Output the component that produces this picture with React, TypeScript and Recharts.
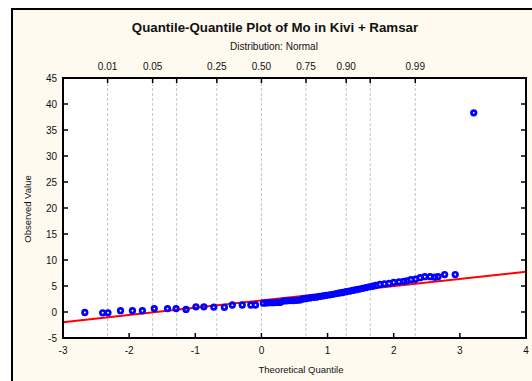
import React from "react";
import {
  ComposedChart,
  Scatter,
  XAxis,
  YAxis,
  CartesianGrid,
  ReferenceLine,
} from "recharts";

// Theoretical normal quantiles of each sample point
const theoreticalQ = [
  -2.67, -2.4, -2.32, -2.13, -1.95, -1.8, -1.62, -1.42, -1.29, -1.14, -0.99,
  -0.87, -0.72, -0.56, -0.44, -0.29, -0.16, -0.09, 0.03, 0.08, 0.13, 0.18,
  0.23, 0.28, 0.33, 0.38, 0.43, 0.48, 0.53, 0.58, 0.63, 0.68, 0.73, 0.78,
  0.83, 0.88, 0.93, 0.98, 1.03, 1.08, 1.13, 1.18, 1.23, 1.28, 1.33, 1.38,
  1.43, 1.48, 1.53, 1.58, 1.63, 1.68, 1.73, 1.79, 1.86, 1.93, 2.0, 2.08,
  2.15, 2.2, 2.26, 2.33, 2.4, 2.47, 2.55, 2.62, 2.67, 2.77, 2.93, 3.21,
];

// Observed Mo values, sorted
const observedMo = [
  -0.1, -0.15, -0.15, 0.25, 0.25, 0.25, 0.65, 0.65, 0.65, 0.5, 1.0, 1.0, 0.95,
  0.9, 1.35, 1.35, 1.35, 1.35, 1.7, 1.75, 1.8, 1.8, 1.85, 1.85, 2.1, 2.15,
  2.2, 2.2, 2.25, 2.3, 2.5, 2.6, 2.7, 2.8, 2.85, 3.0, 3.1, 3.2, 3.3, 3.4,
  3.55, 3.65, 3.75, 3.9, 4.0, 4.15, 4.3, 4.4, 4.55, 4.7, 4.85, 4.95, 5.1,
  5.3, 5.4, 5.5, 5.7, 5.8, 5.9, 6.0, 6.2, 6.3, 6.6, 6.8, 6.8, 6.7, 6.8, 7.2,
  7.2, 38.3,
];

// Reference line of the normal fit, at the ends of the quantile range
const fitLineQ = [-3, 4];
const fitLineV = [-1.95, 7.75];

const bottomTicks = [-3, -2, -1, 0, 1, 2, 3, 4];
const leftTicks = [-5, 0, 5, 10, 15, 20, 25, 30, 35, 40, 45];

// Probability scale along the top (z-values of the normal distribution)
const probZ = [-2.326, -1.645, -1.2816, -0.674, 0, 0.674, 1.2816, 1.645, 2.326];
const probLabels = ["0.01", "0.05", "", "0.25", "0.50", "0.75", "0.90", "", "0.99"];

const points = theoreticalQ.map((q, i) => ({ q, v: observedMo[i] }));
const fitSegment = fitLineQ.map((q, i) => ({ x: q, y: fitLineV[i] }));

const FONT = "'Liberation Sans', Arial, sans-serif";
const TICK_LEN = 5;

const LeftTick = (p: any) => (
  <g>
    <line x1={p.x} y1={p.y} x2={p.x + TICK_LEN} y2={p.y} stroke="#000" strokeWidth={1.5} />
    <text x={p.x - 6} y={p.y} dy="0.35em" textAnchor="end" fontSize={10} fontFamily={FONT} fill="#111">
      {p.payload.value}
    </text>
  </g>
);

const RightTick = (p: any) => (
  <line x1={p.x} y1={p.y} x2={p.x - TICK_LEN} y2={p.y} stroke="#000" strokeWidth={1.5} />
);

const BottomTick = (p: any) => (
  <g>
    <line x1={p.x} y1={p.y} x2={p.x} y2={p.y - TICK_LEN} stroke="#000" strokeWidth={1.5} />
    <text x={p.x} y={p.y + 12} dy="0.35em" textAnchor="middle" fontSize={10} fontFamily={FONT} fill="#111">
      {p.payload.value}
    </text>
  </g>
);

const TopTick = (p: any) => {
  const idx = probZ.indexOf(p.payload.value);
  const label = idx >= 0 ? probLabels[idx] : "";
  return (
    <g>
      <line x1={p.x} y1={p.y} x2={p.x} y2={p.y + TICK_LEN} stroke="#000" strokeWidth={1.5} />
      {label && (
        <text x={p.x} y={p.y - 12} dy="0.35em" textAnchor="middle" fontSize={10} fontFamily={FONT} fill="#111">
          {label}
        </text>
      )}
    </g>
  );
};

const Dot = (p: any) => (
  <circle cx={p.cx} cy={p.cy} r={2.3} fill="none" stroke="#0000ff" strokeWidth={2.7} />
);

const axisLine = { stroke: "#000", strokeWidth: 2, strokeLinecap: "square" as const };

export default function App() {
  return (
    <div
      style={{
        position: "absolute",
        left: 0,
        top: 0,
        width: 532,
        height: 381,
        overflow: "hidden",
        background: "#fff",
        fontFamily: FONT,
      }}
    >
      <div
        style={{
          position: "absolute",
          left: 11,
          top: 8,
          width: 600,
          height: 450,
          border: "2.5px solid #000",
          background: "#fefaf0",
        }}
      />
      <div
        style={{
          position: "absolute",
          left: 275,
          top: 20,
          transform: "translateX(-50%)",
          whiteSpace: "nowrap",
          fontSize: 13.3,
          fontWeight: "bold",
          lineHeight: "15px",
          color: "#111",
        }}
      >
        Quantile-Quantile Plot of Mo in Kivi + Ramsar
      </div>
      <div
        style={{
          position: "absolute",
          left: 274,
          top: 41,
          transform: "translateX(-50%)",
          whiteSpace: "nowrap",
          fontSize: 10,
          lineHeight: "12px",
          color: "#111",
        }}
      >
        Distribution: Normal
      </div>
      <div
        style={{
          position: "absolute",
          left: 301,
          top: 364,
          transform: "translateX(-50%)",
          whiteSpace: "nowrap",
          fontSize: 9.5,
          lineHeight: "12px",
          color: "#111",
        }}
      >
        Theoretical Quantile
      </div>
      <div
        style={{
          position: "absolute",
          left: 28,
          top: 209,
          transform: "translate(-50%, -50%) rotate(-90deg)",
          whiteSpace: "nowrap",
          fontSize: 9.5,
          lineHeight: "12px",
          color: "#111",
        }}
      >
        Observed Value
      </div>
      <div style={{ position: "absolute", left: 0, top: 0 }}>
        <ComposedChart
          width={532}
          height={381}
          data={points}
          margin={{ top: 58, right: 5, bottom: 13, left: 13 }}
        >
          <CartesianGrid
            xAxisId="top"
            yAxisId="left"
            horizontal={false}
            stroke="#c4c4c4"
            strokeDasharray="3 2"
            fill="#ffffff"
            fillOpacity={1}
          />
          <XAxis
            xAxisId="bottom"
            dataKey="q"
            type="number"
            domain={[-3, 4]}
            allowDataOverflow
            ticks={bottomTicks}
            interval={0}
            height={30}
            tickSize={0}
            tickMargin={0}
            tickLine={false}
            axisLine={axisLine}
            tick={BottomTick}
          />
          <XAxis
            xAxisId="top"
            dataKey="q"
            orientation="top"
            type="number"
            domain={[-3, 4]}
            allowDataOverflow
            ticks={probZ}
            interval={0}
            height={20}
            tickSize={0}
            tickMargin={0}
            tickLine={false}
            axisLine={axisLine}
            tick={TopTick}
          />
          <YAxis
            yAxisId="left"
            dataKey="v"
            type="number"
            domain={[-5, 45]}
            allowDataOverflow
            ticks={leftTicks}
            interval={0}
            width={50}
            tickSize={0}
            tickMargin={0}
            tickLine={false}
            axisLine={axisLine}
            tick={LeftTick}
          />
          <YAxis
            yAxisId="right"
            dataKey="v"
            orientation="right"
            type="number"
            domain={[-5, 45]}
            allowDataOverflow
            ticks={leftTicks}
            interval={0}
            width={1}
            tickSize={0}
            tickMargin={0}
            tickLine={false}
            axisLine={axisLine}
            tick={RightTick}
          />
          <Scatter
            xAxisId="bottom"
            yAxisId="left"
            dataKey="v"
            isAnimationActive={false}
            shape={Dot}
          />
          <ReferenceLine
            xAxisId="bottom"
            yAxisId="left"
            segment={fitSegment}
            stroke="#ff0000"
            strokeWidth={2}
          />
        </ComposedChart>
      </div>
    </div>
  );
}
